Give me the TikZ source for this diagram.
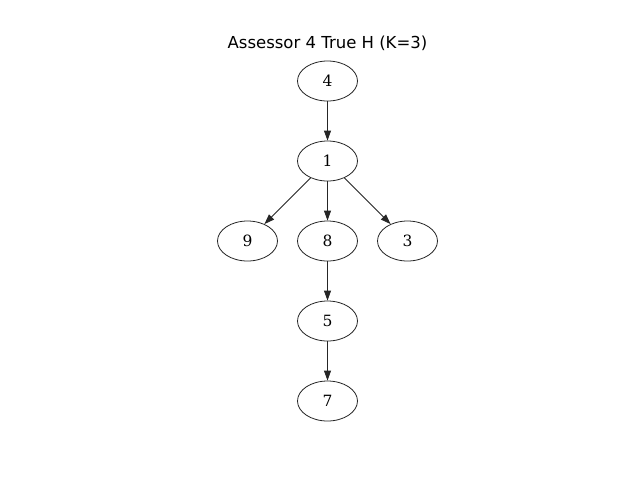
\documentclass[tikz,border=0pt]{standalone}
\usepackage{fontspec}
\setmainfont{DejaVu Serif}
\newfontfamily\titlefont{DejaVu Sans}
\usetikzlibrary{shapes.geometric,arrows.meta}
\begin{document}
\begin{tikzpicture}[x=1pt,y=-1pt,
  vertex/.style={ellipse,draw=black!85,line width=0.8pt,minimum width=60pt,minimum height=40pt,inner sep=0pt,font=\fontsize{15.5}{15.5}\selectfont},
  edge/.style={draw=black!85,line width=0.8pt,-{Triangle[length=10pt,width=7pt]}}]
  \useasboundingbox (0,0) rectangle (640,480);
  \fill[white] (0,0) rectangle (640,480);
  \node[font=\titlefont\fontsize{16.5}{16.5}\selectfont] (title) at (327.5,43) {Assessor 4 True H (K=3)};
  \node[vertex] (n4) at (327.5,81) {4};
  \node[vertex] (n1) at (327.5,161) {1};
  \node[vertex] (n9) at (247.5,241) {9};
  \node[vertex] (n8) at (327.5,241) {8};
  \node[vertex] (n3) at (407.5,241) {3};
  \node[vertex] (n5) at (327.5,321) {5};
  \node[vertex] (n7) at (327.5,401) {7};
  \draw[edge] (n4) -- (n1);
  \draw[edge] (n1) -- (n9);
  \draw[edge] (n1) -- (n8);
  \draw[edge] (n1) -- (n3);
  \draw[edge] (n8) -- (n5);
  \draw[edge] (n5) -- (n7);
\end{tikzpicture}
\end{document}
